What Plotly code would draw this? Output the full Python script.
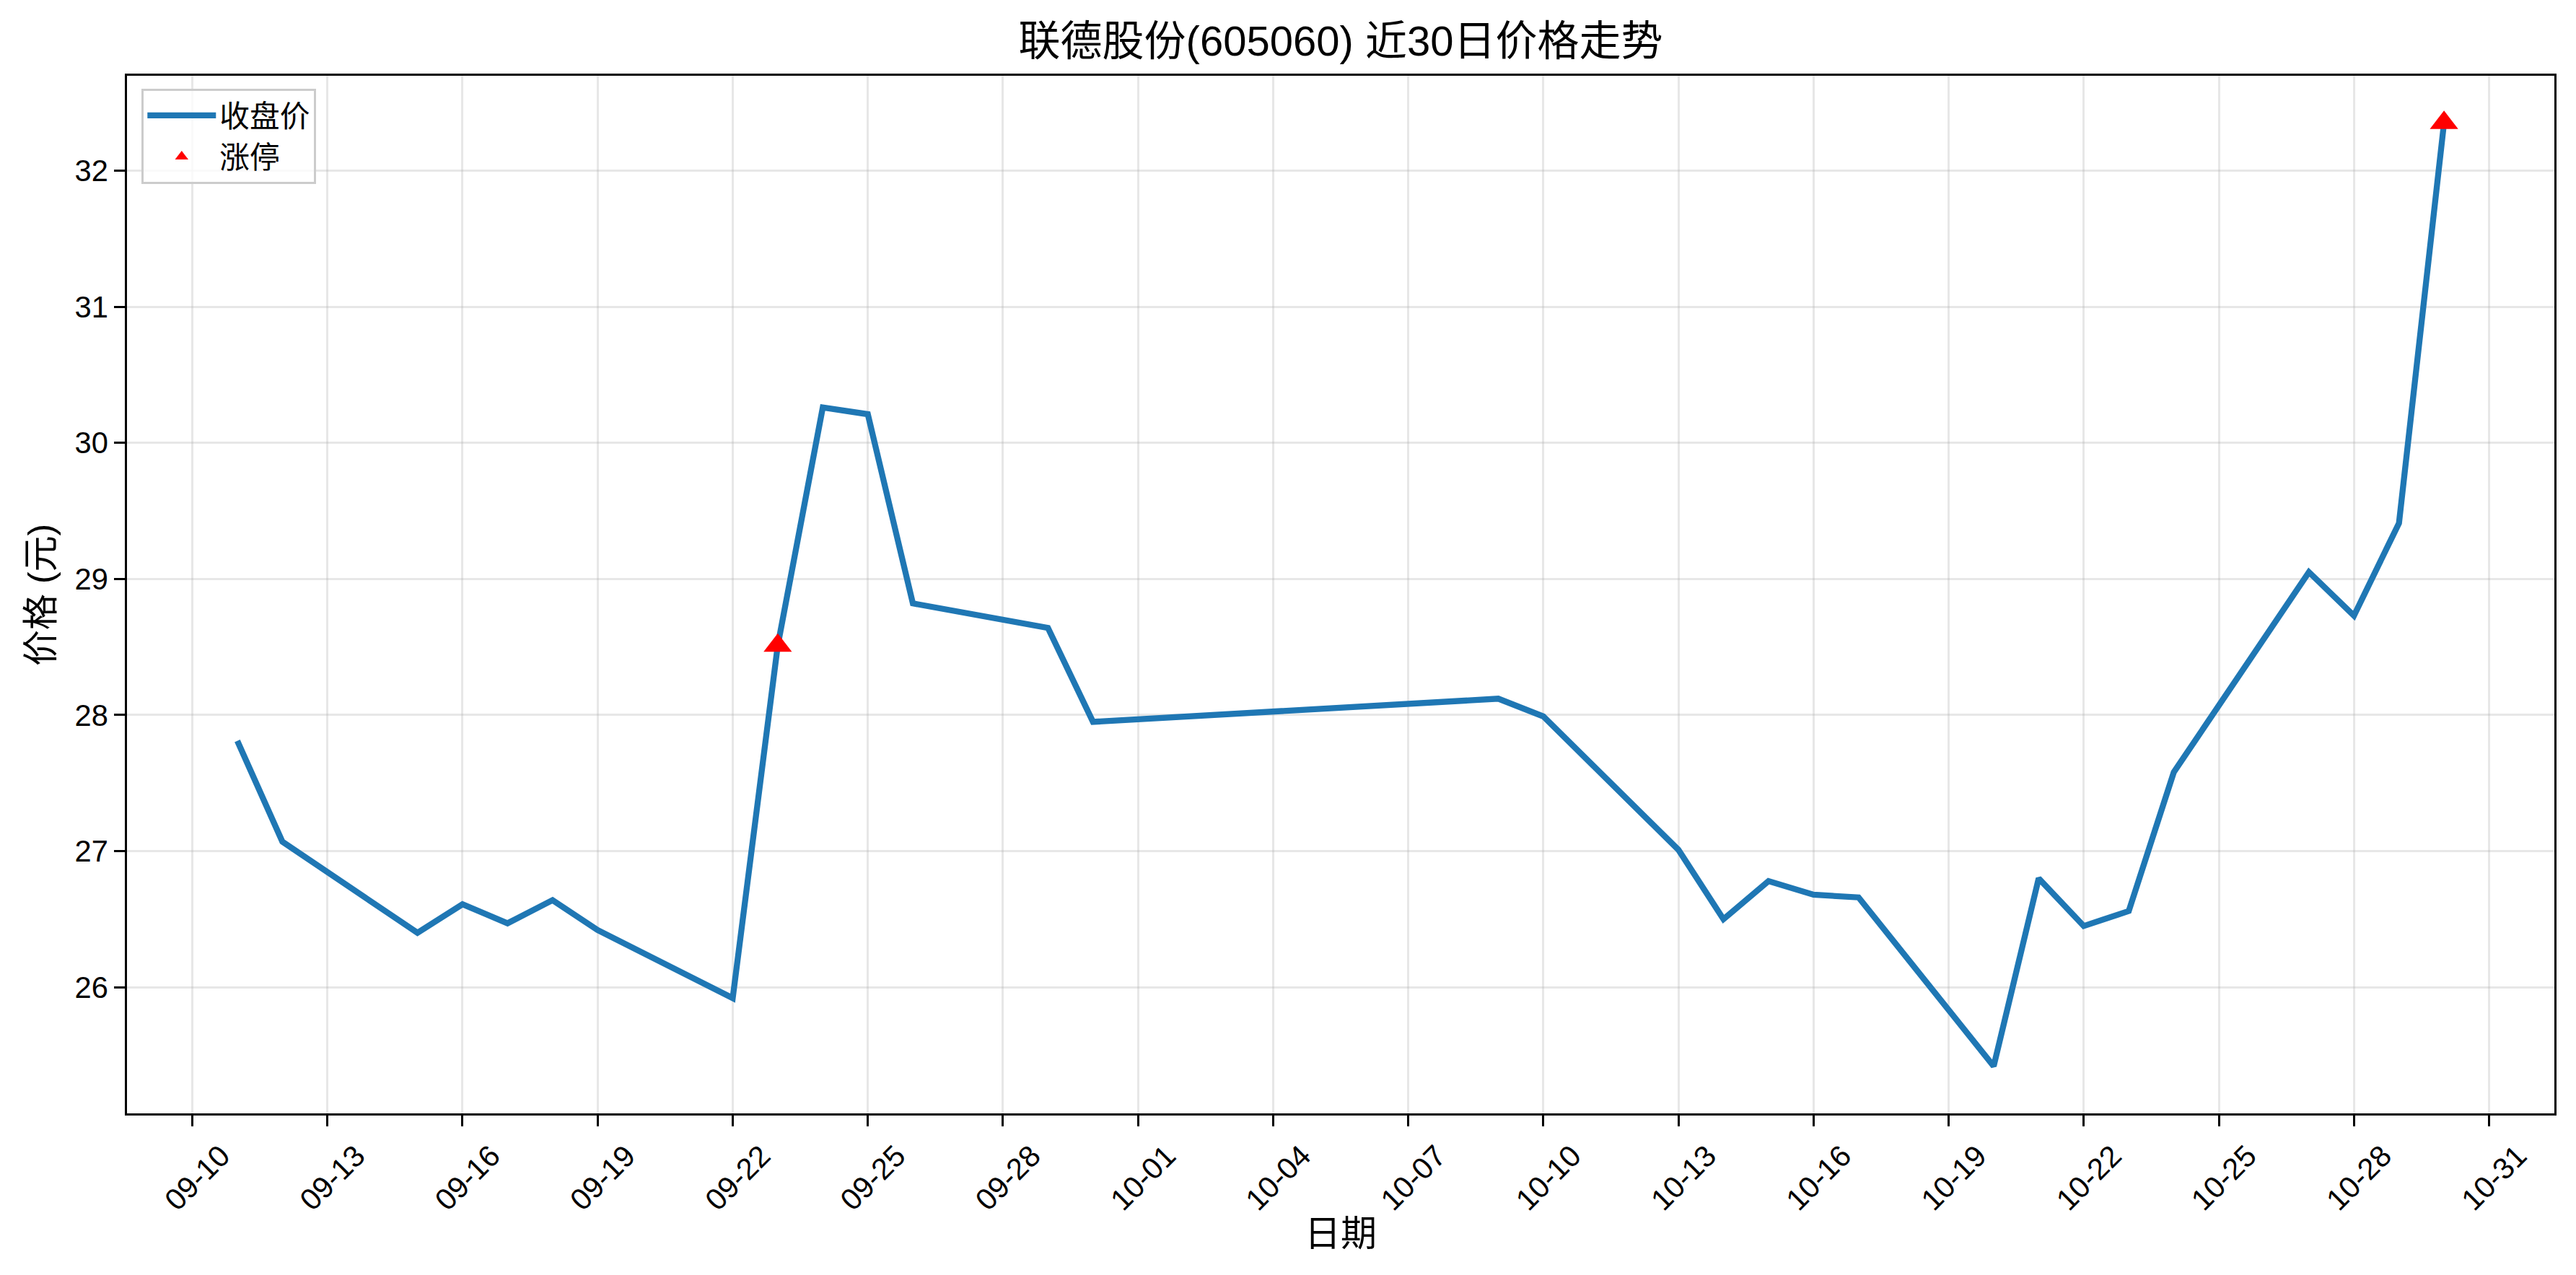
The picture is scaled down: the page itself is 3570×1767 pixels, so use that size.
import plotly.graph_objects as go

YEAR = "2025"

# trading dates (MM-DD) and closing prices
dates = ["09-11", "09-12", "09-15", "09-16", "09-17", "09-18", "09-19", "09-22",
         "09-23", "09-24", "09-25", "09-26", "09-29", "09-30", "10-09", "10-10",
         "10-13", "10-14", "10-15", "10-16", "10-17", "10-20", "10-21", "10-22",
         "10-23", "10-24", "10-27", "10-28", "10-29", "10-30"]
close = [27.81, 27.07, 26.40, 26.61, 26.47, 26.64, 26.42, 25.92,
         28.51, 30.26, 30.21, 28.82, 28.64, 27.95, 28.12, 27.99,
         27.01, 26.50, 26.78, 26.68, 26.66, 25.42, 26.80, 26.45,
         26.56, 27.58, 29.05, 28.73, 29.41, 32.35]

# limit-up days
limit_dates = ["09-23", "10-30"]
limit_close = [28.51, 32.35]

tick_labels = ["09-10", "09-13", "09-16", "09-19", "09-22", "09-25", "09-28",
               "10-01", "10-04", "10-07", "10-10", "10-13", "10-16", "10-19",
               "10-22", "10-25", "10-28", "10-31"]

title_text = "联德股份(605060) 近30日价格走势"
x_title = "日期"
y_title = "价格 (元)"
line_name = "收盘价"
limit_name = "涨停"

FONT = "Liberation Sans, Arial, Noto Sans CJK SC, sans-serif"
W, H = 3570, 1767
ML, MR, MT, MB = 176, 30, 105, 224
PW = W - ML - MR
PH = H - MT - MB

x_full = [f"{YEAR}-{d}" for d in dates]
x_limit = [f"{YEAR}-{d}" for d in limit_dates]
tickvals = [f"{YEAR}-{t}" for t in tick_labels]

ymin, ymax = min(close), max(close)
pad = (ymax - ymin) * 0.05

fig = go.Figure()
fig.add_trace(go.Scatter(
    x=x_full, y=close, mode="lines", name=line_name,
    line=dict(color="#1f77b4", width=8.3),
))
fig.add_trace(go.Scatter(
    x=x_limit, y=limit_close, mode="markers", name=limit_name,
    marker=dict(symbol="triangle-up", color="red", size=34, line=dict(width=0)),
))

axis_common = dict(
    showline=True, linecolor="black", linewidth=3.3, mirror=True,
    ticks="outside", ticklen=14.6, tickwidth=3.3, tickcolor="black",
    showgrid=True, gridcolor="rgba(176,176,176,0.3)", gridwidth=3.3,
    zeroline=False,
    tickfont=dict(family=FONT, size=41.7, color="black"),
)

fig.update_layout(
    width=W, height=H,
    margin=dict(l=ML, r=MR, t=MT, b=MB, pad=0),
    paper_bgcolor="white", plot_bgcolor="white",
    font=dict(family=FONT, color="black"),
    title=dict(text=title_text, x=0.5, xref="paper", xanchor="center",
               y=1 - 57 / H, yref="container", yanchor="middle",
               font=dict(family=FONT, size=58, color="black")),
    xaxis=dict(
        type="date",
        range=[f"{YEAR}-09-08 13:12", f"{YEAR}-11-01 10:48"],
        tickmode="array", tickvals=tickvals, ticktext=tick_labels,
        tickangle=-45, ticklabelshift=40,
        **axis_common,
    ),
    yaxis=dict(
        range=[ymin - pad, ymax + pad],
        tickmode="linear", tick0=26, dtick=1,
        **axis_common,
    ),
    legend=dict(
        x=(196 - ML) / PW, y=1 - (123 - MT) / PH, xanchor="left", yanchor="top",
        bgcolor="rgba(255,255,255,0.8)", bordercolor="#cccccc", borderwidth=3.3,
        font=dict(family=FONT, size=41.7, color="black"),
        itemwidth=95,
    ),
    showlegend=True,
    annotations=[
        dict(text=x_title, x=0.5, xref="paper", y=-(1710 - 1543) / PH, yref="paper",
             xanchor="center", yanchor="middle", showarrow=False,
             font=dict(family=FONT, size=50, color="black")),
        dict(text=y_title, x=(57 - ML) / PW, xref="paper", y=0.5, yref="paper",
             xanchor="center", yanchor="middle", showarrow=False, textangle=-90,
             font=dict(family=FONT, size=50, color="black")),
    ],
)

fig.write_html("out.html", config={"displayModeBar": False},
               post_script="document.body.style.margin='0';")
